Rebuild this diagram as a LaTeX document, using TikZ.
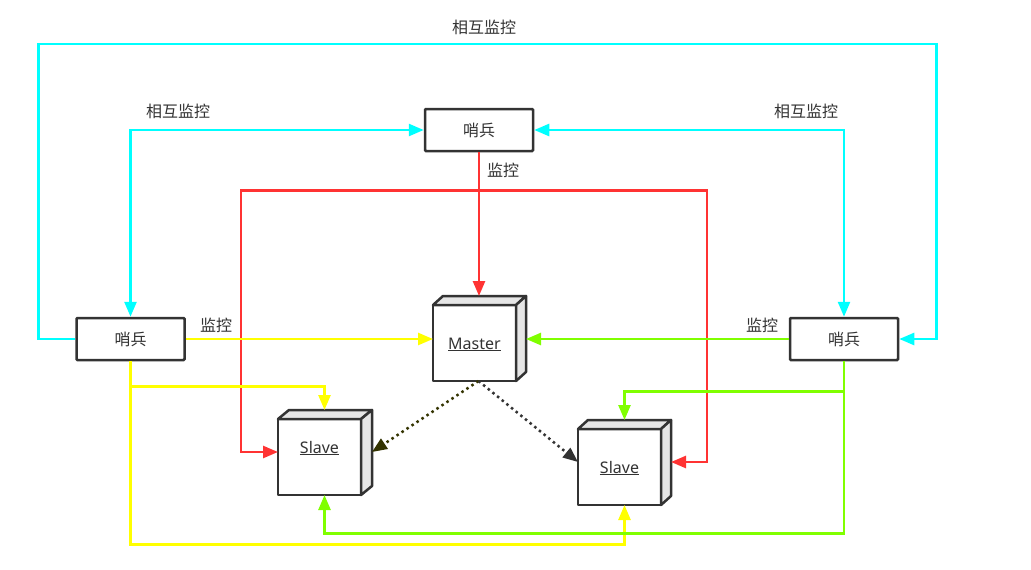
\documentclass[tikz,border=0pt]{standalone}
\usepackage{fontspec}
\setmainfont{Noto Sans CJK SC}
\newfontfamily\latinf{Noto Sans}
\usetikzlibrary{arrows.meta,calc}
\definecolor{ink}{HTML}{333333}
\definecolor{cyanc}{HTML}{00FFFF}
\definecolor{redc}{HTML}{FF3333}
\definecolor{yelc}{HTML}{FFFF00}
\definecolor{grnc}{HTML}{80FF00}
\definecolor{darkolive}{HTML}{333300}
\definecolor{sidegray}{HTML}{E6E6E6}
\newcommand\cubefaces[3]{%
  \draw[face] (#1.north west) -- ++(#2,#3) -- ($(#1.north east)+(#2,#3)$) -- (#1.north east) -- cycle;
  \draw[face] (#1.north east) -- ($(#1.north east)+(#2,#3)$) -- ($(#1.south east)+(#2,#3)$) -- (#1.south east) -- cycle;
}
\begin{document}
\begin{tikzpicture}[x=1pt,y=-1pt,
  sentinel/.style={draw=ink, line width=2.5pt, fill=white, minimum width=108pt, minimum height=42pt, inner sep=0pt, font=\fontsize{16}{18}\selectfont, text=ink, rounded corners=1pt},
  cubefront/.style={draw=ink, line width=2.5pt, fill=white, minimum width=83pt, minimum height=76pt, inner sep=0pt, outer sep=0pt, line join=round},
  cubetext/.style={font=\latinf\fontsize{16}{18}\selectfont, text=ink, inner sep=0pt},
  face/.style={draw=ink, line width=2.5pt, fill=sidegray, line join=round},
  lbl/.style={font=\fontsize{16}{18}\selectfont, text=ink, inner sep=0pt},
  conn/.style={line width=2.5pt},
  arrowend/.style={-{Triangle[length=15pt,width=12pt]}},
  arrowboth/.style={{Triangle[length=15pt,width=12pt]}-{Triangle[length=15pt,width=12pt]}},
  dotline/.style={line width=2.5pt, dash pattern=on 2.5pt off 3.5pt},
]
\fill[white] (0,0) rectangle (1031,570);
\useasboundingbox (0,0) rectangle (1031,570);

% sentinels
\node[sentinel] (T) at (479,130) {哨兵};
\node[sentinel] (L) at (130.5,339) {哨兵};
\node[sentinel] (R) at (844,339) {哨兵};

% cubes
\node[cubefront] (M) at (474.5,343) {};
\cubefaces{M}{10}{-9}
\node[cubetext] (Mt) at ($(M)+(0,1.5)$) {\underline{Master}};
\node[cubefront] (S1) at (319.5,457) {};
\cubefaces{S1}{11}{-9}
\node[cubetext] (S1t) at ($(S1)+(0,-9)$) {\underline{Slave}};
\node[cubefront] (S2) at (619.5,467) {};
\cubefaces{S2}{10}{-9}
\node[cubetext] (S2t) at ($(S2)+(0,1)$) {\underline{Slave}};

\coordinate (Mtop) at ($(M.north)+(4,-9)$);
\coordinate (Mr) at ($(M.east)+(10,0)$);
\coordinate (J) at ($(T.south)+(0,38)$);

% cyan
\draw[conn, cyanc, arrowend] (L.west) -- ++(-37,0) -- ++(0,-295) -| ($(R.east)+(37,0)$) -- (R.east);
\draw[conn, cyanc, arrowboth] (L.north) |- (T.west);
\draw[conn, cyanc, arrowboth] (T.east) -| (R.north);

% red
\draw[conn, redc, arrowend] (T.south) -- (T.south |- Mtop);
\draw[conn, redc, arrowend] (J) -| ($(S1.west)+(-37,-5)$) -- ($(S1.west)+(0,-5)$);
\draw[conn, redc, arrowend] (J) -| ($(S2.east)+(46,-5)$) -- ($(S2.east)+(10,-5)$);

% yellow
\draw[conn, yelc, arrowend] (L.east) -- (L.east -| M.west);
\draw[conn, yelc, arrowend] (L.south) -- ++(0,25) -| ($(S1.north)+(5,-9)$);
\draw[conn, yelc, arrowend] (L.south) -- ++(0,183) -| ($(S2.south)+(5,0)$);

% green
\draw[conn, grnc, arrowend] (R.west) -- (R.west -| Mr);
\draw[conn, grnc, arrowend] (R.south) -- ++(0,30) -| ($(S2.north)+(5,-9)$);
\draw[conn, grnc, arrowend] (R.south) -- ++(0,172) -| ($(S1.south)+(5,0)$);

% dotted replication
\draw[dotline, darkolive, arrowend] ($(M.south)+(4,0)$) -- ($(S1.east)+(11,-5)$);
\draw[dotline, ink, arrowend] ($(M.south)+(4,0)$) -- ($(S2.west)+(0,-5)$);

% labels
\node[lbl] (l1) at (484,27) {相互监控};
\node[lbl] (l2) at (178,111) {相互监控};
\node[lbl] (l3) at (806,111) {相互监控};
\node[lbl] (l4) at (503,170) {监控};
\node[lbl] (l5) at (216,325) {监控};
\node[lbl] (l6) at (762,325) {监控};
\end{tikzpicture}
\end{document}
